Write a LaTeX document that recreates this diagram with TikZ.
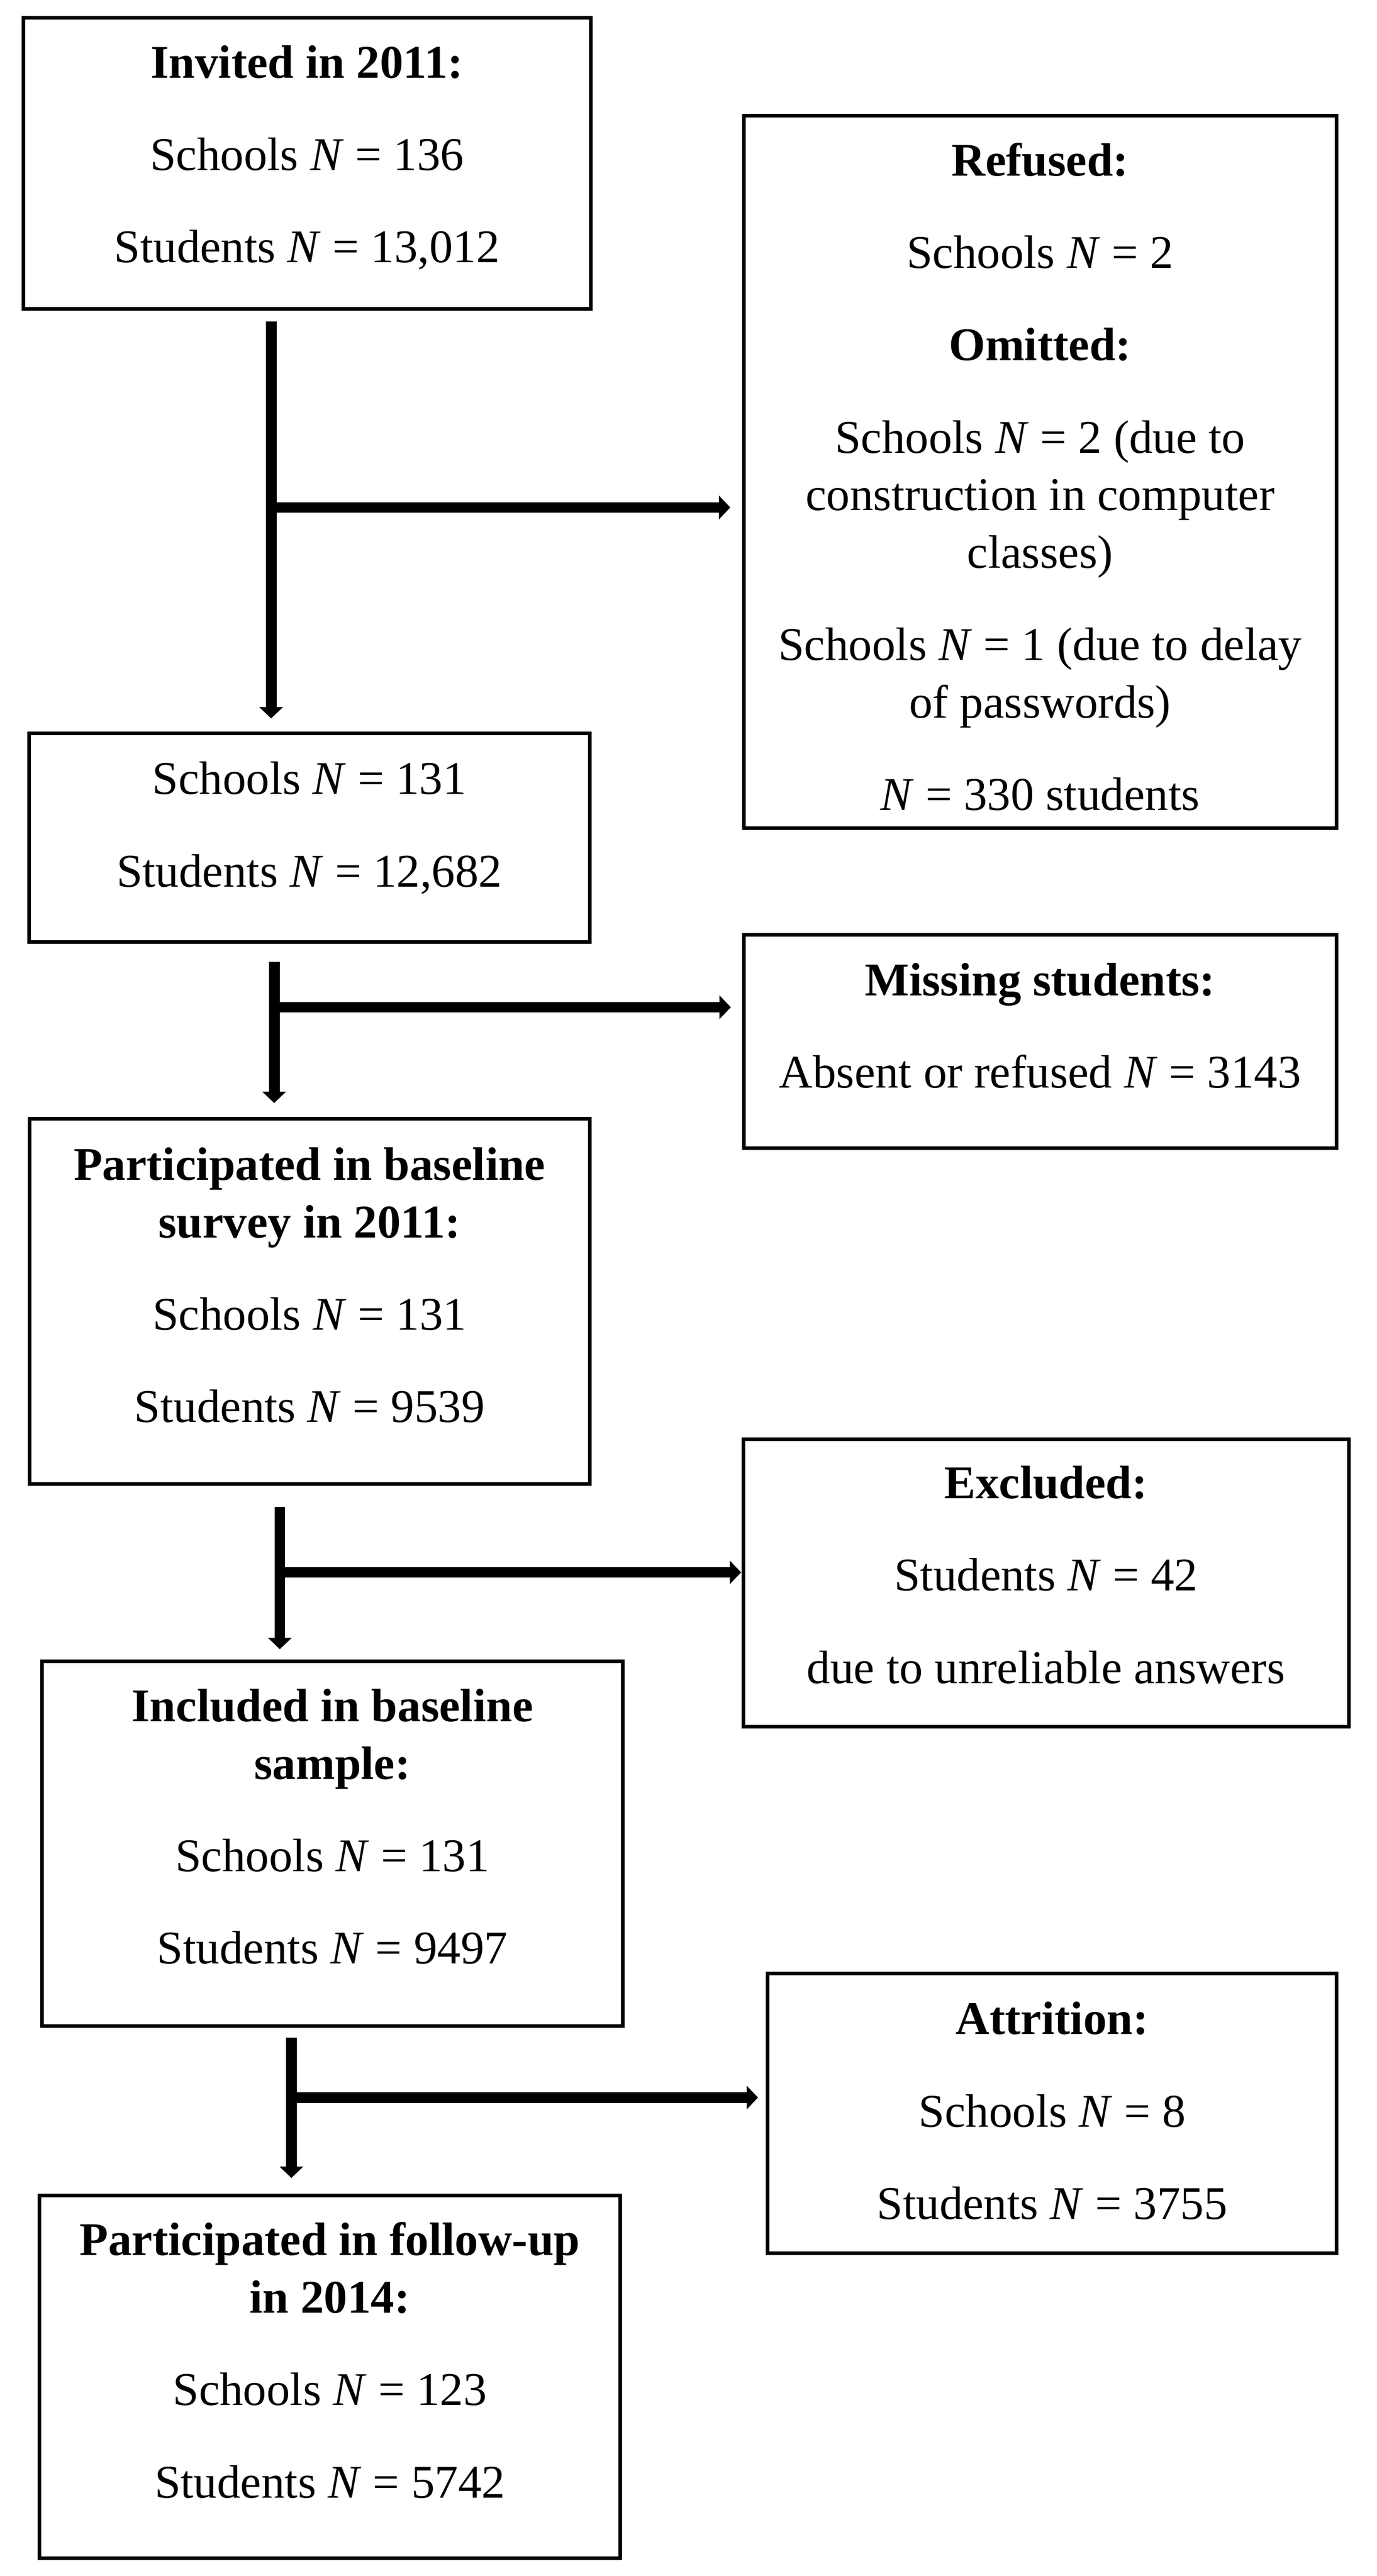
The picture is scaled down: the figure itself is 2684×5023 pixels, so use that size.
\documentclass[tikz,border=0pt]{standalone}
\usepackage{fontspec}
\setmainfont{Liberation Serif}
\usetikzlibrary{arrows.meta,calc}
\tikzset{
  box/.style={draw, line width=2pt, inner sep=0pt, outer sep=0pt},
  txt/.style={align=center, inner sep=0pt, outer sep=0pt, anchor=north, font=\fontsize{26}{31.9}\selectfont},
  arr/.style={line width=5.97pt, line cap=butt, -{Triangle[length=6.3pt, width=12.8pt]}},
}
\begin{document}
\begin{tikzpicture}[x=0.01cm, y=-0.01cm]
\useasboundingbox (0,0) rectangle (2684,5023);
% boxes
\node[box, minimum width=11.05cm, minimum height=5.67cm]  (b1) at (598.5,318.5) {};
\node[box, minimum width=11.55cm, minimum height=13.88cm] (r)  at (2027.5,920) {};
\node[box, minimum width=10.92cm, minimum height=4.07cm]  (b2) at (603,1633.5) {};
\node[box, minimum width=11.55cm, minimum height=4.16cm]  (m)  at (2027.5,2031) {};
\node[box, minimum width=10.91cm, minimum height=7.12cm]  (b3) at (603.5,2538) {};
\node[box, minimum width=11.80cm, minimum height=5.61cm]  (e)  at (2039,3086.5) {};
\node[box, minimum width=11.32cm, minimum height=7.11cm]  (b4) at (648,3594.5) {};
\node[box, minimum width=11.08cm, minimum height=5.45cm]  (a)  at (2051,4120.5) {};
\node[box, minimum width=11.32cm, minimum height=7.07cm]  (b5) at (643,4634.5) {};
% texts
\node[txt] (t1) at (598.5,81.7) {\rule{0pt}{20pt}\textbf{Invited in 2011:}\\[19.3pt]
  Schools \textit{N} = 136\\[19.3pt] Students \textit{N} = 13,012};
\node[txt] (tr) at (2027.5,272.7) {\rule{0pt}{20pt}\textbf{Refused:}\\[19.3pt]
  Schools \textit{N} = 2\\[19.3pt] \textbf{Omitted:}\\[19.3pt]
  Schools \textit{N} = 2 (due to\\ construction in computer\\ classes)\\[19.3pt]
  Schools \textit{N} = 1 (due to delay\\ of passwords)\\[19.3pt]
  \textit{N} = 330 students};
\node[txt] (t2) at (603,1478.7) {\rule{0pt}{20pt}Schools \textit{N} = 131\\[19.3pt]
  Students \textit{N} = 12,682};
\node[txt] (tm) at (2027.5,1870.7) {\rule{0pt}{20pt}\textbf{Missing students:}\\[19.3pt]
  Absent or refused \textit{N} = 3143};
\node[txt] (t3) at (603.5,2230.7) {\rule{0pt}{20pt}\textbf{Participated in baseline}\\
  \textbf{survey in 2011:}\\[19.3pt] Schools \textit{N} = 131\\[19.3pt] Students \textit{N} = 9539};
\node[txt] (te) at (2039,2851.7) {\rule{0pt}{20pt}\textbf{Excluded:}\\[19.3pt]
  Students \textit{N} = 42\\[19.3pt] due to unreliable answers};
\node[txt] (t4) at (648,3286.7) {\rule{0pt}{20pt}\textbf{Included in baseline}\\
  \textbf{sample:}\\[19.3pt] Schools \textit{N} = 131\\[19.3pt] Students \textit{N} = 9497};
\node[txt] (ta) at (2051,3896.7) {\rule{0pt}{20pt}\textbf{Attrition:}\\[19.3pt]
  Schools \textit{N} = 8\\[19.3pt] Students \textit{N} = 3755};
\node[txt] (t5) at (643,4327.7) {\rule{0pt}{20pt}\textbf{Participated in follow-up}\\
  \textbf{in 2014:}\\[19.3pt] Schools \textit{N} = 123\\[19.3pt] Students \textit{N} = 5742};
% junctions
\coordinate (j1) at (528.5,989.5);
\coordinate (j2) at (534.5,1964);
\coordinate (j3) at (545.5,3066);
\coordinate (j4) at (568,4090);
% connectors
\draw[arr] ($(b1.south -| j1)+(0,25)$) -- ($(b2.north -| j1)+(0,-29)$);
\draw[arr] (j1) -- ($(j1 -| r.west)+(-26,0)$);
\draw[arr] ($(b2.south -| j2)+(0,38)$) -- ($(b3.north -| j2)+(0,-31)$);
\draw[arr] (j2) -- ($(j2 -| m.west)+(-25,0)$);
\draw[arr] ($(b3.south -| j3)+(0,44)$) -- ($(b4.north -| j3)+(0,-23)$);
\draw[arr] (j3) -- ($(j3 -| e.west)+(-4,0)$);
\draw[arr] ($(b4.south -| j4)+(0,23)$) -- ($(b5.north -| j4)+(0,-34)$);
\draw[arr] (j4) -- ($(j4 -| a.west)+(-19,0)$);
\end{tikzpicture}
\end{document}
